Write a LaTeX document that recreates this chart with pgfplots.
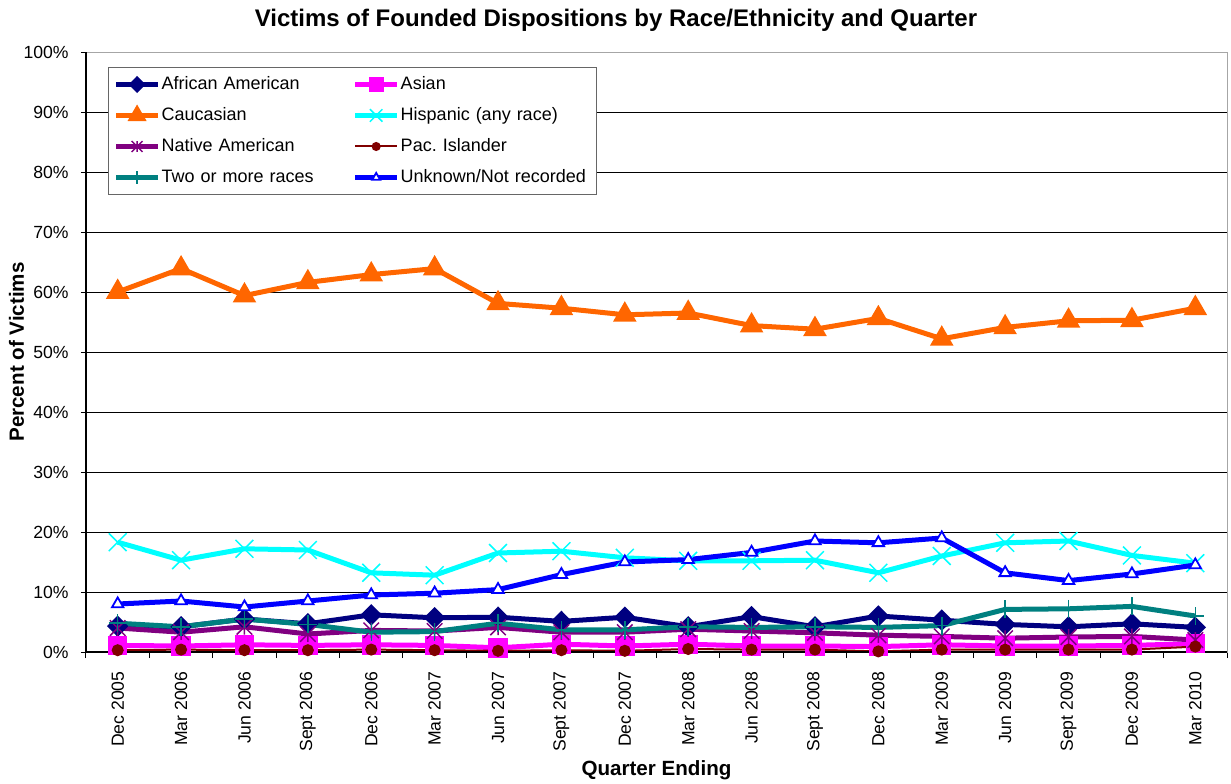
\documentclass[border=0pt]{standalone}
\usepackage{fontspec}
\setmainfont{Liberation Sans}
\usepackage{pgfplots}
\pgfplotsset{compat=1.18}
\usepackage{pgfplotstable}

\definecolor{cAA}{HTML}{000080}
\definecolor{cAS}{HTML}{FF00FF}
\definecolor{cCA}{HTML}{FF6600}
\definecolor{cHI}{HTML}{00FFFF}
\definecolor{cNA}{HTML}{800080}
\definecolor{cPI}{HTML}{800000}
\definecolor{cTW}{HTML}{008080}
\definecolor{cUN}{HTML}{0000FF}

% star marker: an x with a vertical stroke through it
\pgfdeclareplotmark{xstar}{%
  \pgfpathmoveto{\pgfqpoint{-.7071\pgfplotmarksize}{-.7071\pgfplotmarksize}}%
  \pgfpathlineto{\pgfqpoint{.7071\pgfplotmarksize}{.7071\pgfplotmarksize}}%
  \pgfpathmoveto{\pgfqpoint{-.7071\pgfplotmarksize}{.7071\pgfplotmarksize}}%
  \pgfpathlineto{\pgfqpoint{.7071\pgfplotmarksize}{-.7071\pgfplotmarksize}}%
  \pgfpathmoveto{\pgfqpoint{0pt}{-.7071\pgfplotmarksize}}%
  \pgfpathlineto{\pgfqpoint{0pt}{.7071\pgfplotmarksize}}%
  \pgfusepathqstroke}

% percent of victims per quarter (x = quarter index)
\pgfplotstableread{
x  aa   as   ca    hi    na   pi   tw   un
0  4.3  1.1  60.0  18.3  4.0  0.3  4.8  8.0
1  4.2  1.0  63.9  15.3  3.3  0.4  4.2  8.5
2  5.5  1.2  59.4  17.2  4.2  0.3  5.5  7.5
3  4.7  1.1  61.6  17.0  3.0  0.3  4.6  8.5
4  6.2  1.2  62.9  13.2  3.6  0.4  3.3  9.5
5  5.7  1.1  63.9  12.8  3.5  0.3  3.4  9.8
6  5.8  0.7  58.1  16.5  4.1  0.2  4.8  10.4
7  5.1  1.3  57.3  16.8  3.3  0.3  3.7  12.9
8  5.8  1.0  56.2  15.7  3.3  0.2  3.7  15.0
9  4.2  1.3  56.5  15.2  3.8  0.5  4.2  15.4
10 5.9  1.0  54.4  15.2  3.5  0.4  4.1  16.6
11 4.2  1.0  53.8  15.3  3.2  0.4  4.2  18.5
12 6.0  0.9  55.6  13.2  2.8  0.1  4.1  18.2
13 5.3  1.2  52.2  16.0  2.6  0.4  4.4  19.0
14 4.6  1.0  54.1  18.2  2.3  0.4  7.1  13.2
15 4.2  1.0  55.2  18.5  2.5  0.4  7.2  11.9
16 4.7  1.1  55.3  16.1  2.6  0.4  7.6  13.0
17 4.1  1.4  57.3  14.8  2.0  0.9  6.0  14.5
}\datatable

\begin{document}
\begin{tikzpicture}
\begin{axis}[
  scale only axis,
  width=570.5pt, height=300pt,
  xmin=-0.5, xmax=17.5, ymin=0, ymax=100,
  clip=false,
  axis line style={draw=gray!70, line width=0.5pt},
  xtick={0,...,17},
  xticklabels={Dec 2005,Mar 2006,Jun 2006,Sept 2006,Dec 2006,Mar 2007,Jun 2007,Sept 2007,Dec 2007,Mar 2008,Jun 2008,Sept 2008,Dec 2008,Mar 2009,Jun 2009,Sept 2009,Dec 2009,Mar 2010},
  major x tick style={draw=none},
  minor xtick={-0.5,0.5,...,17.5},
  minor tick length=3pt,
  minor x tick style={black, line width=0.5pt, yshift=-1.5pt},
  major tick length=5pt,
  tick align=center,
  ytick={0,10,...,100},
  y tick style={black, line width=0.5pt},
  xtick pos=bottom, ytick pos=left,
  yticklabel={\pgfmathprintnumber{\tick}\%},
  /pgf/number format/assume math mode=true,
  ticklabel style={font=\fontsize{8.8}{10}\selectfont},
  yticklabel style={inner sep=0pt, anchor=east},
  yticklabel shift=6pt,
  xticklabel style={rotate=90, anchor=east, inner sep=0pt},
  xticklabel shift=7pt,
  ymajorgrids,
  major grid style={black, line width=0.5pt},
  every axis plot/.append style={line width=2.5pt},
  legend columns=2,
  legend cell align=left,
  legend image code/.code={%
    \draw[mark repeat=2,mark phase=2] plot coordinates {(0cm,0cm) (0.37cm,0cm) (0.74cm,0cm)};},
  legend image post style={/tikz/every mark/.append style={scale=0.7}},
  legend style={
    at={(0.0193,0.975)}, anchor=north west,
    draw=gray!80!black, line width=0.5pt,
    inner sep=2.5pt, row sep=3.5pt,
    font=\fontsize{9}{11}\selectfont,
    nodes={text width=95pt, align=left, text height=7pt, text depth=2pt, inner ysep=1.5pt, inner xsep=0.5pt},
    /tikz/every even column/.append style={column sep=0pt}},
]
\addplot[cAA, mark=diamond*, mark size=3.6pt, mark options={solid, xscale=1.33}] table[x=x, y=aa] {\datatable};
\addlegendentry{African American}
\addplot[cAS, mark=square*, mark size=3.6pt, mark options={solid}] table[x=x, y=as] {\datatable};
\addlegendentry{Asian}
\addplot[cCA, mark=triangle*, mark size=4.3pt, mark options={solid}] table[x=x, y=ca] {\datatable};
\addlegendentry{Caucasian}
\addplot[cHI, mark=x, mark size=6.3pt, mark options={solid, line width=0.75pt}] table[x=x, y=hi] {\datatable};
\addlegendentry{Hispanic (any race)}
\addplot[cNA, mark=xstar, mark size=5.5pt, mark options={solid, line width=0.75pt}] table[x=x, y=na] {\datatable};
\addlegendentry{Native American}
\addplot[cPI, line width=1pt, mark=*, mark size=2.5pt, mark options={solid}] table[x=x, y=pi] {\datatable};
\addlegendentry{Pac.\ Islander}
\addplot[cTW, mark=+, mark size=4.5pt, mark options={solid, line width=0.75pt}] table[x=x, y=tw] {\datatable};
\addlegendentry{Two or more races}
\addplot[cUN, mark=triangle*, mark size=3.3pt, mark options={solid, fill=white, draw=cUN, line width=0.9pt}] table[x=x, y=un] {\datatable};
\addlegendentry{Unknown/Not recorded}
% black value and category axes over the grey plot-area frame
\draw[black, line width=0.6pt] (rel axis cs:0,1) -- (rel axis cs:0,0) -- (rel axis cs:1,0);
\coordinate (sw) at (rel axis cs:0,0);
\coordinate (ne) at (rel axis cs:1,1);
\coordinate (ml) at (rel axis cs:0,0.5);
\coordinate (mb) at (rel axis cs:0.5,0);
\coordinate (tt) at (rel axis cs:0.4645,1);
\end{axis}
\node[anchor=base, font=\bfseries\fontsize{12}{14}\selectfont] at ([yshift=12.6pt]tt)
  {Victims of Founded Dispositions by Race/Ethnicity and Quarter};
\node[anchor=base, font=\bfseries\fontsize{10.3}{12}\selectfont] at ([yshift=-61.7pt]mb) {Quarter Ending};
\node[anchor=base, rotate=90, font=\bfseries\fontsize{10.3}{12}\selectfont] at ([xshift=-31pt]ml) {Percent of Victims};
\pgfresetboundingbox
\path[use as bounding box] ([shift={(-43pt,-65.5pt)}]sw) rectangle ([shift={(2pt,26pt)}]ne);
\end{tikzpicture}
\end{document}
